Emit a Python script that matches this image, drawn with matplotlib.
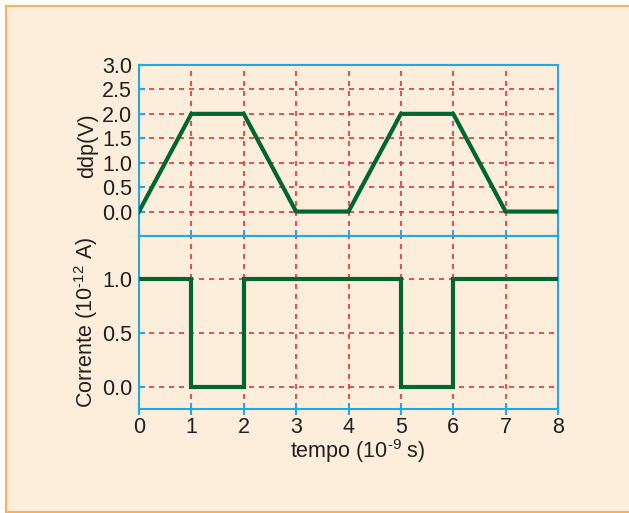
import matplotlib
matplotlib.use("Agg")
import matplotlib.pyplot as plt
from matplotlib import patches as mpatches

plt.rcParams["font.family"] = ["Liberation Sans", "DejaVu Sans"]
plt.rcParams["mathtext.default"] = "regular"

# data
t_ddp = [0, 1, 2, 3, 4, 5, 6, 7, 8]
ddp = [0, 2, 2, 0, 0, 2, 2, 0, 0]
t_cur = [0, 1, 1, 2, 2, 5, 5, 6, 6, 8]
corrente = [1, 1, 0, 0, 1, 1, 0, 0, 1, 1]
x_ticks = [0, 1, 2, 3, 4, 5, 6, 7, 8]
ddp_ticks = [0.0, 0.5, 1.0, 1.5, 2.0, 2.5, 3.0]
cur_ticks = [0.0, 0.5, 1.0]

BG = "#FDEDDB"
BORDER = "#F8B060"
BLUE = "#1EAAE7"
RED = "#E8303A"
GREEN = "#00662F"
TXT = "#231F20"
FS = 15.5

fig = plt.figure(figsize=(6.29, 5.13), dpi=100, facecolor="white")
fig.patches.append(mpatches.Rectangle((5.5 / 629, 1 / 513), 1.0, 1 - 6.5 / 513,
                                      transform=fig.transFigure, facecolor=BG,
                                      edgecolor=BORDER, linewidth=1.5, zorder=-5))

ax1 = fig.add_axes([139 / 629, 1 - 236 / 513, 419 / 629, 171 / 513])
ax2 = fig.add_axes([139 / 629, 1 - 409 / 513, 419 / 629, 173 / 513])

for ax in (ax1, ax2):
    ax.set_facecolor(BG)
    for s in ax.spines.values():
        s.set_color(BLUE)
        s.set_linewidth(1.5)
    ax.set_xlim(0, 8)
    ax.set_xticks(x_ticks)
    ax.tick_params(colors=BLUE, labelcolor=TXT, labelsize=FS, width=1.5)
    ax.tick_params(axis="x", direction="inout", length=8, pad=2)
    ax.tick_params(axis="y", direction="in", length=4, pad=5)
    ax.grid(True, color=RED, linestyle=(0, (3, 3)), linewidth=1.2)
    ax.set_axisbelow(True)

ax1.plot(t_ddp, ddp, color=GREEN, lw=3.0, solid_joinstyle="miter", zorder=3)
ax1.set_ylim(-0.5, 3.0)
ax1.set_yticks(ddp_ticks)
ax1.set_yticklabels([f"{v:.1f}" for v in ddp_ticks])
ax1.tick_params(axis="x", labelbottom=False)
ax1.set_ylabel("ddp(V)", fontsize=FS, color=TXT)
ax1.yaxis.set_label_coords(-0.098, 0.53)

ax2.plot(t_cur, corrente, color=GREEN, lw=3.0, solid_joinstyle="miter", zorder=3)
ax2.set_ylim(-0.2, 1.4)
ax2.set_yticks(cur_ticks)
ax2.set_yticklabels([f"{v:.1f}" for v in cur_ticks])
ax2.set_ylabel("Corrente (10$^{\u2010 12}$ A)", fontsize=FS, color=TXT)
ax2.yaxis.set_label_coords(-0.093, 0.5)
ax2.set_xlabel("tempo (10$^{\u2010 9}$ s)", fontsize=FS, color=TXT)
ax2.xaxis.set_label_coords(0.523, -0.165)

fig.savefig("out.png", dpi=100, facecolor="white")
